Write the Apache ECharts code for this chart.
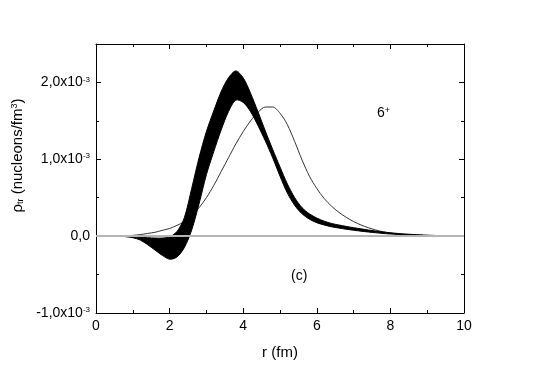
<!DOCTYPE html>
<html>
<head>
<meta charset="utf-8">
<script src="https://cdn.jsdelivr.net/npm/echarts@6/dist/echarts.min.js"></script>
<style>
	html, body { margin: 0; padding: 0; background: #fff; }
	#chart { width: 540px; height: 376px; }
</style>
</head>
<body>
<div id="chart"></div>
<script>
// r in fm, densities in units of 1e-3 nucleons/fm^3
var r = [0, 0.2, 0.4, 0.6, 0.8, 1.0, 1.2, 1.4, 1.6, 1.8,
	2.0, 2.2, 2.4, 2.6, 2.8, 3.0, 3.2, 3.4, 3.6, 3.8,
	4.0, 4.2, 4.4, 4.6, 4.8, 5.0, 5.2, 5.4, 5.6, 5.8,
	6.0, 6.2, 6.4, 6.6, 6.8, 7.0, 7.2, 7.4, 7.6, 7.8,
	8.0, 8.2, 8.4, 8.6, 8.8, 9.0, 9.2, 9.4, 9.6, 9.8, 10];

// thin curve
var thinCurve = [0, 0, 0, 0.002, 0.005, 0.01, 0.02, 0.035, 0.05, 0.075,
	0.10, 0.14, 0.19, 0.27, 0.37, 0.50, 0.66, 0.84, 1.02, 1.20,
	1.36, 1.50, 1.61, 1.68, 1.68, 1.60, 1.45, 1.23, 0.99, 0.78,
	0.62, 0.49, 0.39, 0.31, 0.245, 0.19, 0.145, 0.11, 0.08, 0.057,
	0.04, 0.028, 0.019, 0.013, 0.009, 0.006, 0.004, 0.003, 0.002, 0.001, 0];

// black band, outer edge (higher peak)
var bandHigh = [0, 0, 0, -0.002, -0.005, -0.01, -0.015, -0.02, -0.025, -0.025,
	-0.01, 0.06, 0.24, 0.62, 1.02, 1.36, 1.63, 1.88, 2.06, 2.15,
	2.06, 1.86, 1.62, 1.37, 1.13, 0.90, 0.68, 0.50, 0.37, 0.29,
	0.235, 0.195, 0.165, 0.145, 0.127, 0.11, 0.095, 0.08, 0.066, 0.054,
	0.044, 0.035, 0.028, 0.022, 0.017, 0.013, 0.009, 0.006, 0.004, 0.002, 0.001];

// black band, inner edge (deep minimum)
var bandLow = [0, 0, 0, -0.002, -0.006, -0.02, -0.05, -0.11, -0.18, -0.25,
	-0.30, -0.27, -0.15, 0.08, 0.42, 0.80, 1.10, 1.38, 1.62, 1.77,
	1.74, 1.62, 1.44, 1.24, 1.02, 0.78, 0.56, 0.40, 0.29, 0.22,
	0.175, 0.145, 0.122, 0.105, 0.09, 0.077, 0.065, 0.054, 0.044, 0.035,
	0.028, 0.022, 0.017, 0.013, 0.01, 0.007, 0.005, 0.003, 0.002, 0.001, 0];

var FONT = 'Liberation Sans, Arial, Helvetica, sans-serif';

(function() {
	var myChart = echarts.init(document.getElementById('chart'), null, { renderer: 'canvas' });

	function frameAxis(pos, interval, tickLen) {
		var vertical = pos === 'left' || pos === 'right';
		return {
			type: 'value',
			position: pos,
			min: vertical ? -1 : 0,
			max: vertical ? 2.5 : 10,
			interval: interval,
			axisLine: { show: true, onZero: false, lineStyle: { color: '#000', width: 1 } },
			axisTick: { show: true, inside: true, length: tickLen, lineStyle: { color: '#000', width: 1 } },
			splitLine: { show: false },
			axisLabel: { show: false }
		};
	}

	var xBottom = frameAxis('bottom', 2, 5);
	xBottom.minorTick = { show: true, splitNumber: 2, length: 3, lineStyle: { color: '#000', width: 1 } };
	xBottom.axisLabel = { show: true, color: '#000', fontSize: 14, fontFamily: FONT, margin: 6 };
	xBottom.name = 'r (fm)';
	xBottom.nameLocation = 'middle';
	xBottom.nameGap = 32;
	xBottom.nameTextStyle = { color: '#000', fontSize: 15, fontFamily: FONT };

	var xTop = frameAxis('top', 2, 5);
	xTop.minorTick = { show: true, splitNumber: 2, length: 3, lineStyle: { color: '#000', width: 1 } };

	var yLeft = frameAxis('left', 0.5, 3);
	yLeft.axisLabel = {
		show: true,
		color: '#000',
		fontSize: 14,
		fontFamily: FONT,
		margin: 6,
		formatter: function(v) {
			if (Math.abs(v) < 1e-9) return '0,0';
			if (Math.abs(v - Math.round(v)) > 1e-9) return '';
			return '{a|' + v.toFixed(1).replace('.', ',') + 'x10}{s|-3}';
		},
		rich: {
			a: { fontSize: 14, fontFamily: FONT, color: '#000' },
			s: { fontSize: 8, fontFamily: FONT, color: '#000', verticalAlign: 'top' }
		}
	};
	yLeft.name = '{a|ρ}{b|tr}{a| (nucleons/fm}{c|3}{a|)}';
	yLeft.nameLocation = 'middle';
	yLeft.nameRotate = 90;
	yLeft.nameGap = 64;
	yLeft.nameTextStyle = {
		color: '#000',
		fontSize: 15,
		fontFamily: FONT,
		padding: [0, 0, 0, 46],
		rich: {
			a: { fontSize: 15, fontFamily: FONT, color: '#000' },
			b: { fontSize: 9, fontFamily: FONT, color: '#000', verticalAlign: 'bottom' },
			c: { fontSize: 9, fontFamily: FONT, color: '#000', verticalAlign: 'top' }
		}
	};
	var yLeftMajor = frameAxis('left', 1, 5);
	yLeftMajor.axisLine = { show: false, onZero: false };
	var yRight = frameAxis('right', 0.5, 3);
	var yRightMajor = frameAxis('right', 1, 5);
	yRightMajor.axisLine = { show: false, onZero: false };

	var bandData = r.map(function(x, i) {
		return [x, bandLow[i], bandHigh[i]];
	});

	var option = {
		animation: false,
		backgroundColor: '#fff',
		textStyle: { fontFamily: FONT },
		grid: { left: 96, right: 76, top: 44, bottom: 63, show: false },
		xAxis: [xBottom, xTop],
		yAxis: [yLeft, yLeftMajor, yRight, yRightMajor],
		graphic: [{
			type: 'text',
			left: 377,
			top: 106,
			style: {
				text: '{a|6}{c|+}',
				rich: {
					a: { fontSize: 14, fontFamily: FONT, fill: '#000' },
					c: { fontSize: 9, fontFamily: FONT, fill: '#000', verticalAlign: 'top' }
				}
			}
		}, {
			type: 'text',
			left: 291,
			top: 269,
			style: {
				text: '(c)',
				fontSize: 14,
				fontFamily: FONT,
				fill: '#000'
			}
		}],
		series: [{
			name: 'thin',
			type: 'line',
			xAxisIndex: 0,
			yAxisIndex: 0,
			z: 2,
			showSymbol: false,
			smooth: 0.3,
			lineStyle: { color: '#333', width: 1 },
			data: r.map(function(x, i) { return [x, thinCurve[i]]; }),
			markLine: {
				silent: true,
				symbol: 'none',
				label: { show: false },
				lineStyle: { color: '#b4b4b4', width: 2, type: 'solid' },
				data: [{ yAxis: 0 }]
			}
		}, {
			name: 'band',
			type: 'custom',
			xAxisIndex: 0,
			yAxisIndex: 0,
			z: 3,
			encode: { x: 0, y: [1, 2] },
			data: bandData,
			renderItem: function(params, api) {
				if (params.dataIndex !== 0) return;
				var pts = [];
				for (var i = 0; i < bandData.length; i++) {
					pts.push(api.coord([bandData[i][0], bandData[i][2]]));
				}
				for (var j = bandData.length - 1; j >= 0; j--) {
					pts.push(api.coord([bandData[j][0], bandData[j][1]]));
				}
				return {
					type: 'polygon',
					shape: { points: pts, smooth: 0.3 },
					style: { fill: '#000', stroke: '#000', lineWidth: 1 }
				};
			}
		}]
	};
	myChart.setOption(option);
})();
</script>
</body>
</html>
